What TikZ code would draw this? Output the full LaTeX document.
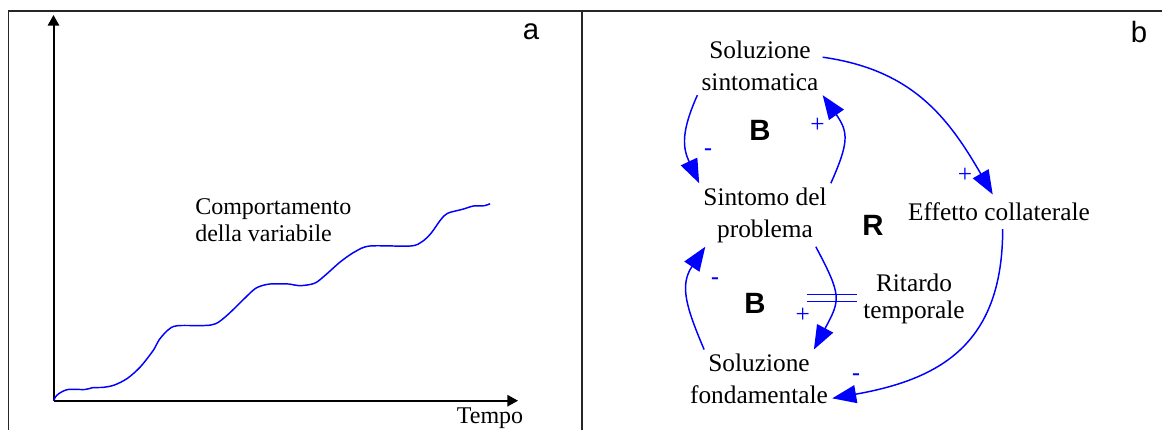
\documentclass[tikz,border=0pt]{standalone}
\usepackage{fontspec}
\setmainfont{Liberation Serif}
\setsansfont{Liberation Sans}
\usetikzlibrary{arrows.meta}

\begin{document}
\begin{tikzpicture}[x=.75pt,y=.75pt,
  frame/.style={line width=1.2pt,black!85},
  axis/.style={line width=1.5pt,-{Triangle[length=8pt,width=8.5pt]}},
  var/.style={font=\fontsize{19}{24}\selectfont,align=center,inner sep=3pt},
  link/.style={blue,line width=1.1pt,-{Triangle[length=18pt,width=13.5pt]}},
  plus/.style={blue,font=\fontsize{19}{24}\selectfont,inner sep=0pt},
  minus/.style={blue,font=\sffamily\fontsize{19}{24}\selectfont,inner sep=0pt},
  loop/.style={font=\sffamily\bfseries\fontsize{22}{26}\selectfont},
  panel/.style={font=\sffamily\fontsize{22}{26}\selectfont}]
\useasboundingbox (0,0) rectangle (1162,430);
% frame of the two panels
\draw [frame] (8.3,0) |- (1162,419);
\draw [frame] (581.7,0) -- (581.7,419);

% panel a: behaviour over time
\coordinate (o) at (53.5,29.3);
\coordinate (ytip) at (53.5,415);
\coordinate (xtip) at (518,29.3);
\draw [axis] (o) -- (ytip);
\draw [axis] (o) -- (xtip);
\node (tempo) [font=\fontsize{18}{20}\selectfont,inner sep=0pt] at (490,12) {Tempo};
\node (a) [panel] at (531,398) {a};
\node (comp) [font=\fontsize{18}{20}\selectfont,align=left,anchor=west,inner sep=0pt] at (195,210) {Comportamento\\della variabile};
\draw [blue,line width=1.1pt] plot[smooth,tension=.5] coordinates {(53.5,29.3) (55.5,33) (59,36.5) (68,40.5) (85,40.5) (92.5,42.3) (103.5,42.7) (114.5,45) (127.5,51.7) (140.5,63.3) (153.5,80) (159,90) (168,100) (177.5,104.3) (211,105) (225.5,113.3) (251.5,138.3) (259,143.3) (270,146) (288.5,146) (299.5,144.3) (314.5,146.7) (325.5,155) (340.5,168.3) (355,178.3) (370,184) (410.5,184) (422,188.3) (431,196.7) (440.5,210) (447.5,216.7) (462.5,220.7) (473.5,224) (484.5,224.3) (490,226.3)};

% panel b: causal loops
\node (b) [panel] at (1139,398) {b};
\node (symp) [var] at (760,364) {Soluzione\\sintomatica};
\node (sinto) [var] at (765,215) {Sintomo del\\problema};
\node (fond) [var] at (759,51.3) {Soluzione\\fondamentale};
\node (eff) [var,inner ysep=6pt] at (999,218.2) {Effetto collaterale};
\node (rit) [var,font=\fontsize{19}{20}\selectfont] at (914,131.2) {Ritardo\\temporale};
\node (b1) [loop] at (760,300) {B};
\node (b2) [loop] at (755,127) {B};
\node (r) [loop] at (873,205) {R};

\draw [link] (symp.south west) to[out=246,in=115,looseness=1.15] (sinto.north west);
\draw [link] (sinto.north east) to[out=66,in=305,looseness=1.3] (symp.south east);
\draw [link] (symp.8) to[out=352,in=120,looseness=1.05] (eff.110);
\draw [link] (eff.-78) to[out=270,in=10,looseness=1.2] (fond.-15);
\draw [link] (sinto.-32) to[out=298,in=62,looseness=1.4] coordinate[pos=.5] (lag) (fond.28);
\draw [link] (fond.152) to[out=113,in=236,looseness=1.15] (sinto.208);
% delay marks
\draw [blue,line width=1.1pt] ([shift={(-28,3.4)}]lag) -- ++(50,0);
\draw [blue,line width=1.1pt] ([shift={(-28,-3.4)}]lag) -- ++(50,0);

\node (s1) [minus] at (708,277) {-};
\node (s2) [plus] at (817.5,305) {+};
\node (s3) [plus] at (965,255) {+};
\node (s4) [minus] at (856,52.5) {-};
\node (s5) [plus] at (802.7,115) {+};
\node (s6) [minus] at (715,148) {-};
\end{tikzpicture}
\end{document}
